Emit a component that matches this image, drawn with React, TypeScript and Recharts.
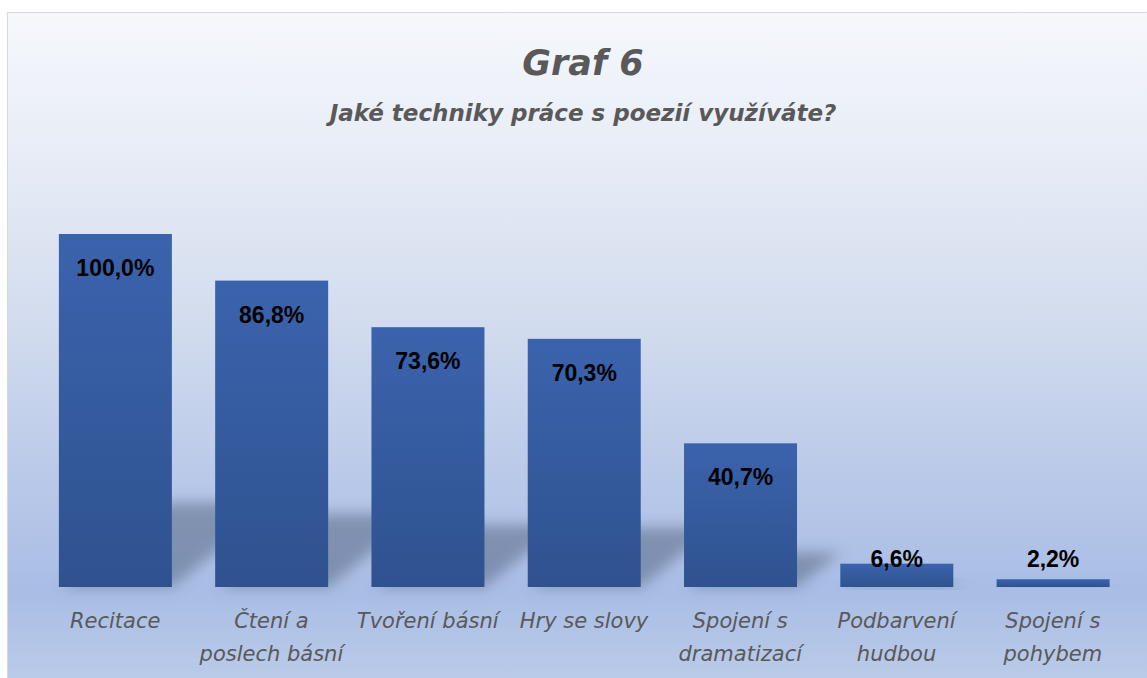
import { BarChart, Bar, XAxis, YAxis, LabelList } from "recharts";

// Graf 6 – techniky práce s poezií
const categories = [
  "Recitace",
  "Čtení a\nposlech básní",
  "Tvoření básní",
  "Hry se slovy",
  "Spojení s\ndramatizací",
  "Podbarvení\nhudbou",
  "Spojení s\npohybem",
];
const shares = [100.0, 86.8, 73.6, 70.3, 40.7, 6.6, 2.2];

const title = "Graf 6";
const subtitle = "Jaké techniky práce s poezií využíváte?";

const data = categories.map((name, i) => ({ name, value: shares[i] }));

const fmtPct = (v: number) => `${v.toFixed(1).replace(".", ",")}%`;

const textGray = "#595959";

function ShadowBar(props: any) {
  const { x, y, width, height } = props;
  if (!height || height <= 0) return null;
  const base = y + height;
  const sh = height * 0.24;
  const shift = height * 0.3;
  const pts = [
    [x + 4, base],
    [x + width, base],
    [x + width + shift, base - sh],
    [x + 4 + shift, base - sh],
  ]
    .map((p) => p.join(","))
    .join(" ");
  return (
    <g>
      <polygon points={pts} fill="#4f5f7a" fillOpacity={0.5} filter="url(#shadowBlur)" />
      <rect x={x} y={y} width={width} height={height} fill="url(#barGrad)" />
    </g>
  );
}

function PctLabel(props: any) {
  const { x, y, width, height, value } = props;
  const base = y + height;
  const cy = height > 50 ? y + 34 : Math.min(y - 3, base - 28);
  return (
    <text
      x={x + width / 2}
      y={cy}
      textAnchor="middle"
      dominantBaseline="central"
      fontFamily="'Liberation Sans', Arial, sans-serif"
      fontWeight="bold"
      fontSize={23}
      fill="#000"
    >
      {fmtPct(Number(value))}
    </text>
  );
}

function CategoryTick(props: any) {
  const { x, y, payload } = props;
  const lines = String(payload.value).split("\n");
  return (
    <g>
      {lines.map((ln, i) => (
        <text
          key={i}
          x={x}
          y={y + 34 + i * 33}
          textAnchor="middle"
          dominantBaseline="central"
          fontFamily="'DejaVu Sans', sans-serif"
          fontStyle="italic"
          fontSize={21}
          fill={textGray}
        >
          {ln}
        </text>
      ))}
    </g>
  );
}

export default function App() {
  return (
    <div style={{ position: "absolute", left: 0, top: 0, width: 1147, height: 678, overflow: "hidden", background: "#fff" }}>
      <div
        style={{
          position: "absolute",
          left: 7,
          top: 12,
          width: 1160,
          height: 690,
          border: "1px solid #d9d9d9",
          boxSizing: "border-box",
          background:
            "linear-gradient(to bottom, #f6f8fc 0%, #e4eaf5 25%, #d2dcee 45%, #bccbe9 65%, #a9bde5 84%, #b8c9e8 95%, #bfcee9 100%)",
        }}
      />
      <div
        style={{
          position: "absolute",
          left: 0,
          width: 1166,
          top: 40,
          textAlign: "center",
          fontFamily: "'DejaVu Sans', sans-serif",
          fontWeight: "bold",
          fontStyle: "italic",
          fontSize: 35,
          lineHeight: "46px",
          color: textGray,
        }}
      >
        {title}
      </div>
      <div
        style={{
          position: "absolute",
          left: 0,
          width: 1166,
          top: 98,
          textAlign: "center",
          fontFamily: "'DejaVu Sans', sans-serif",
          fontWeight: "bold",
          fontStyle: "italic",
          fontSize: 23,
          lineHeight: "30px",
          color: textGray,
        }}
      >
        {subtitle}
      </div>
      <div style={{ position: "absolute", left: 0, top: 0 }}>
        <BarChart
          width={1147}
          height={678}
          data={data}
          margin={{ top: 234, right: 16, left: 37, bottom: 31 }}
          barCategoryGap="14%"
        >
          <defs>
            <linearGradient id="barGrad" x1="0" y1="0" x2="0" y2="1">
              <stop offset="0%" stopColor="#3b63ad" />
              <stop offset="100%" stopColor="#2f528f" />
            </linearGradient>
            <filter id="shadowBlur" x="-50%" y="-50%" width="200%" height="200%">
              <feGaussianBlur stdDeviation="7" />
            </filter>
          </defs>
          <XAxis
            dataKey="name"
            axisLine={false}
            tickLine={false}
            tickSize={0}
            tickMargin={0}
            height={60}
            interval={0}
            tick={<CategoryTick />}
          />
          <YAxis hide domain={[0, 100]} />
          <Bar dataKey="value" shape={<ShadowBar />} isAnimationActive={false}>
            <LabelList dataKey="value" content={<PctLabel />} />
          </Bar>
        </BarChart>
      </div>
    </div>
  );
}
